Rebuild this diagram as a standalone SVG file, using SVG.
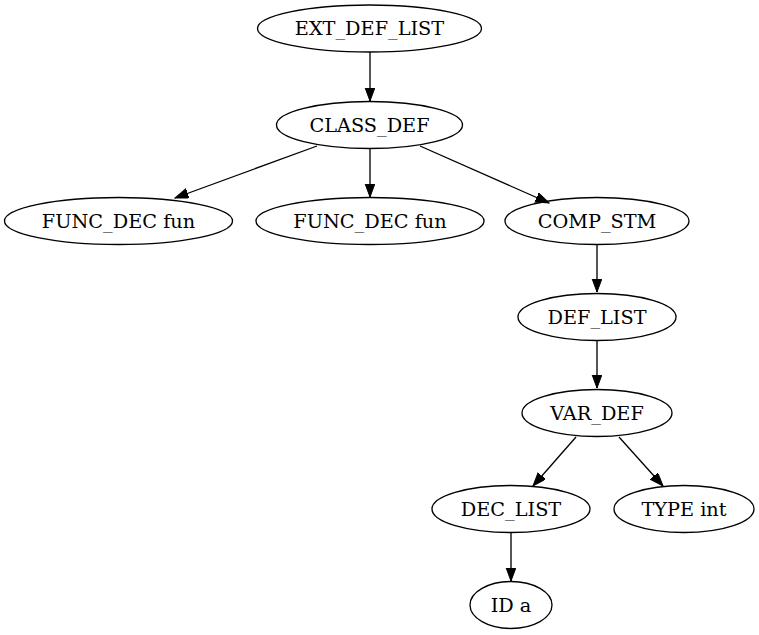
<svg xmlns="http://www.w3.org/2000/svg" width="759" height="635" viewBox="0 0 759 635">
<style>
.n ellipse{fill:none;stroke:#000;stroke-width:1.33}
.n text{font-family:"DejaVu Serif","Liberation Serif",serif;font-size:19.3px;text-anchor:middle;fill:#000}
.e line{stroke:#000;stroke-width:1.33;marker-end:url(#ah)}
</style>
<defs>
<marker id="ah" markerUnits="userSpaceOnUse" markerWidth="15" markerHeight="11" refX="13.5" refY="5" orient="auto">
<path d="M0,0 L13.5,5 L0,10 Z" fill="#000" stroke="#000" stroke-width="1"/>
</marker>
</defs>
<rect width="759" height="635" fill="#fff"/>
<g id="edges" class="e">
<line x1="370" y1="52" x2="370" y2="101"/>
<line x1="317" y1="146" x2="175" y2="198"/>
<line x1="370" y1="149" x2="370" y2="197"/>
<line x1="420" y1="146" x2="549" y2="203"/>
<line x1="597" y1="245" x2="597" y2="292"/>
<line x1="597" y1="341" x2="597" y2="388"/>
<line x1="576" y1="437" x2="533" y2="486"/>
<line x1="619" y1="437" x2="663" y2="486"/>
<line x1="511" y1="533" x2="511" y2="581"/>
</g>
<g id="ext_def_list" class="n"><ellipse cx="369.5" cy="28.5" rx="112" ry="23.5"/><text x="369.5" y="35">EXT_DEF_LIST</text></g>
<g id="class_def" class="n"><ellipse cx="369.5" cy="125" rx="93" ry="23.5"/><text x="369.5" y="131.5">CLASS_DEF</text></g>
<g id="func_dec_1" class="n"><ellipse cx="118.5" cy="221" rx="114" ry="23.5"/><text x="118.5" y="227.5">FUNC_DEC fun</text></g>
<g id="func_dec_2" class="n"><ellipse cx="370" cy="221" rx="114" ry="23.5"/><text x="370" y="227.5">FUNC_DEC fun</text></g>
<g id="comp_stm" class="n"><ellipse cx="597" cy="221" rx="92" ry="23.5"/><text x="597" y="227.5">COMP_STM</text></g>
<g id="def_list" class="n"><ellipse cx="597" cy="317" rx="79" ry="23.5"/><text x="597" y="323.5">DEF_LIST</text></g>
<g id="var_def" class="n"><ellipse cx="597" cy="413" rx="75" ry="23.5"/><text x="597" y="419.5">VAR_DEF</text></g>
<g id="dec_list" class="n"><ellipse cx="511" cy="509" rx="79" ry="23.5"/><text x="511" y="515.5">DEC_LIST</text></g>
<g id="type_int" class="n"><ellipse cx="684" cy="509" rx="70" ry="23.5"/><text x="684" y="515.5">TYPE int</text></g>
<g id="id_a" class="n"><ellipse cx="511" cy="605" rx="41" ry="23.5"/><text x="511" y="611.5">ID a</text></g>
</svg>
